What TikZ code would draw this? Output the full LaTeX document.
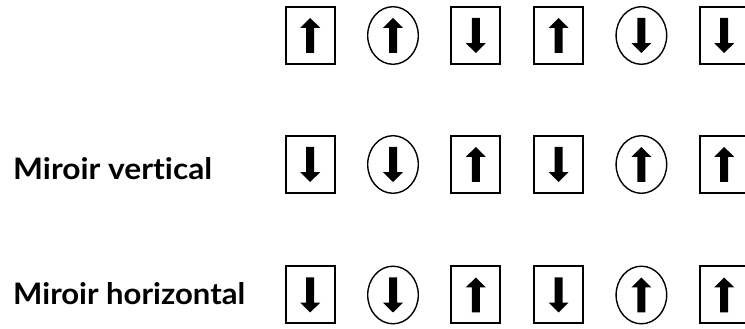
\documentclass[tikz,border=0pt]{standalone}
\usepackage{fontspec}
\newfontfamily\lblfont{Lato}[Ligatures=NoCommon]
\usetikzlibrary{shapes.geometric}
\tikzset{
  uparrowfill/.style={path picture={\fill[shift={(path picture bounding box.center)}]
      (0pt,17.5pt) -- (10pt,7.6pt) -- (4pt,7.6pt) -- (4pt,-17.5pt) -- (-4pt,-17.5pt) -- (-4pt,7.6pt) -- (-10pt,7.6pt) -- cycle;}},
  downarrowfill/.style={path picture={\fill[shift={(path picture bounding box.center)}]
      (0pt,-17.5pt) -- (10pt,-7.6pt) -- (4pt,-7.6pt) -- (4pt,17.5pt) -- (-4pt,17.5pt) -- (-4pt,-7.6pt) -- (-10pt,-7.6pt) -- cycle;}},
  sqbox/.style={draw, line width=2pt, minimum width=49pt, minimum height=57pt, inner sep=0pt},
  ovbox/.style={draw, ellipse, line width=1.4pt, minimum width=50.6pt, minimum height=57.6pt, inner sep=0pt},
  ubox/.style={sqbox, uparrowfill},
  dbox/.style={sqbox, downarrowfill},
  uov/.style={ovbox, uparrowfill},
  dov/.style={ovbox, downarrowfill},
  lbl/.style={anchor=base west, inner sep=0pt, font=\lblfont\bfseries},
}
\begin{document}
\begin{tikzpicture}[x=1pt,y=1pt]
\useasboundingbox (0,0) rectangle (745,329);
% row 1
\node[ubox] (a1) at (310.2,293.5) {};
\node[uov]  (a2) at (393.0,293.5) {};
\node[dbox] (a3) at (475.8,293.5) {};
\node[ubox] (a4) at (558.6,293.5) {};
\node[dov]  (a5) at (641.4,293.5) {};
\node[dbox] (a6) at (724.2,293.5) {};
% row 2
\node[lbl] (lv) at (13,149) {\resizebox{199pt}{22pt}{Miroir vertical}};
\node[dbox] (b1) at (310.2,164.5) {};
\node[dov]  (b2) at (393.0,164.5) {};
\node[ubox] (b3) at (475.8,164.5) {};
\node[dbox] (b4) at (558.6,164.5) {};
\node[uov]  (b5) at (641.4,164.5) {};
\node[ubox] (b6) at (724.2,164.5) {};
% row 3
\node[lbl] (lh) at (13,24) {\resizebox{232pt}{22pt}{Miroir horizontal}};
\node[dbox] (c1) at (310.2,34) {};
\node[dov]  (c2) at (393.0,34) {};
\node[ubox] (c3) at (475.8,34) {};
\node[dbox] (c4) at (558.6,34) {};
\node[uov]  (c5) at (641.4,34) {};
\node[ubox] (c6) at (724.2,34) {};
\end{tikzpicture}
\end{document}
